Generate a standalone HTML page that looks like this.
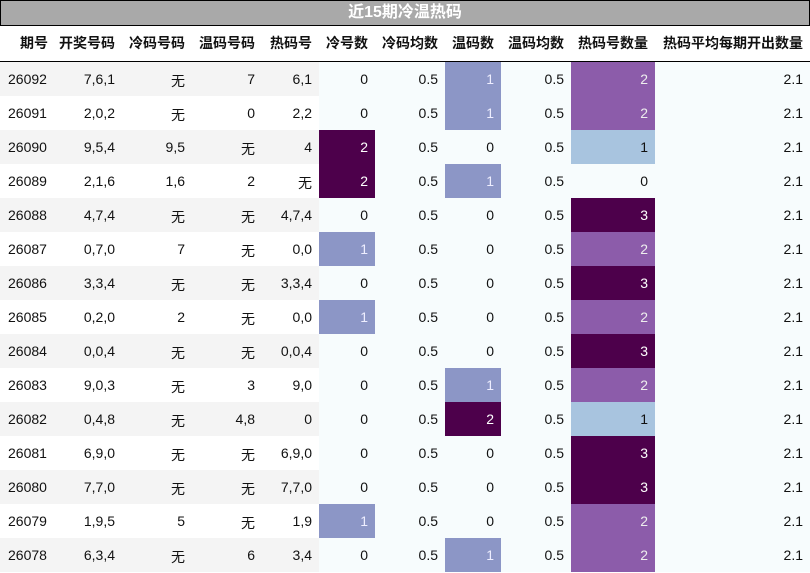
<!DOCTYPE html>
<html><head><meta charset="utf-8">
<style>
body{margin:0;width:810px;height:573px;background:#fff;font-family:"Liberation Sans","Noto Sans CJK SC",sans-serif;overflow:hidden;position:relative}
#title{position:absolute;left:0;top:0;width:808px;height:24px;background:#a9a9a9;border:1px solid #000;color:#fff;font-weight:bold;font-size:16px;text-align:center;line-height:24px}
.c{position:absolute;box-sizing:border-box;padding-right:7px;text-align:right;font-size:14px;color:#111}
.h{font-weight:bold;top:26px;height:35px;line-height:38px}
#hline{position:absolute;left:0;top:61px;width:810px;height:1px;background:#000}
</style></head><body>
<div id="title">近15期冷温热码</div>
<div id="hline"></div>
<script>
const headers=["期号","开奖号码","冷码号码","温码号码","热码号","冷号数","冷码均数","温码数","温码均数","热码号数量","热码平均每期开出数量"];
const periods=["26092","26091","26090","26089","26088","26087","26086","26085","26084","26083","26082","26081","26080","26079","26078"];
const draws=["7,6,1","2,0,2","9,5,4","2,1,6","4,7,4","0,7,0","3,3,4","0,2,0","0,0,4","9,0,3","0,4,8","6,9,0","7,7,0","1,9,5","6,3,4"];
const coldNums=["无","无","9,5","1,6","无","7","无","2","无","无","无","无","无","5","无"];
const warmNums=["7","0","无","2","无","无","无","无","无","3","4,8","无","无","无","6"];
const hotNums=["6,1","2,2","4","无","4,7,4","0,0","3,3,4","0,0","0,0,4","9,0","0","6,9,0","7,7,0","1,9","3,4"];
const coldCount=[0,0,2,2,0,1,0,1,0,0,0,0,0,1,0];
const coldAvg=[0.5,0.5,0.5,0.5,0.5,0.5,0.5,0.5,0.5,0.5,0.5,0.5,0.5,0.5,0.5];
const warmCount=[1,1,0,1,0,0,0,0,0,1,2,0,0,0,1];
const warmAvg=[0.5,0.5,0.5,0.5,0.5,0.5,0.5,0.5,0.5,0.5,0.5,0.5,0.5,0.5,0.5];
const hotCount=[2,2,1,0,3,2,3,2,3,2,1,3,3,2,2];
const hotAvg=[2.1,2.1,2.1,2.1,2.1,2.1,2.1,2.1,2.1,2.1,2.1,2.1,2.1,2.1,2.1];
const edges=[0,55,122,192,262,319,375,445,501,571,655,810];
const names=["period","draw","cold-numbers","warm-numbers","hot-numbers","cold-count","cold-avg","warm-count","warm-avg","hot-count","hot-avg"];
const coldColor=v=>v>=2?["#4d004b","#fff"]:v==1?["#8c96c6","#eef"]:["#f7fcfd","#111"];
const hotColor=v=>v>=3?["#4d004b","#fff"]:v==2?["#8c5caa","#eee"]:v==1?["#a8c4df","#111"]:["#f7fcfd","#111"];
function cell(i,top,h,txt){const d=document.createElement('div');d.className='c';d.style.left=edges[i]+'px';d.style.width=(edges[i+1]-edges[i])+'px';d.style.top=top+'px';d.style.height=h+'px';d.style.lineHeight=h+'px';d.textContent=txt;document.body.appendChild(d);return d;}
headers.forEach((t,i)=>{const d=cell(i,26,35,t);d.classList.add('h');

});
periods.forEach((p,r)=>{const top=62+r*34;
const vals=[p,draws[r],coldNums[r],warmNums[r],hotNums[r],coldCount[r],coldAvg[r],warmCount[r],warmAvg[r],hotCount[r],hotAvg[r]];
vals.forEach((v,i)=>{const d=cell(i,top,34,String(v));


if(i==0){d.style.textAlign='left';d.style.paddingLeft='8px';}
if(i<5){d.style.background=r%2==0?'#f4f4f4':'#fff';}
else{let c=["#f7fcfd","#111"];if(i==5||i==7)c=coldColor(v);if(i==9)c=hotColor(v);d.style.background=c[0];d.style.color=c[1];}
if(v==="无"){d.style.paddingTop='4px';d.style.lineHeight='30px';}
});});
</script>
</body></html>
